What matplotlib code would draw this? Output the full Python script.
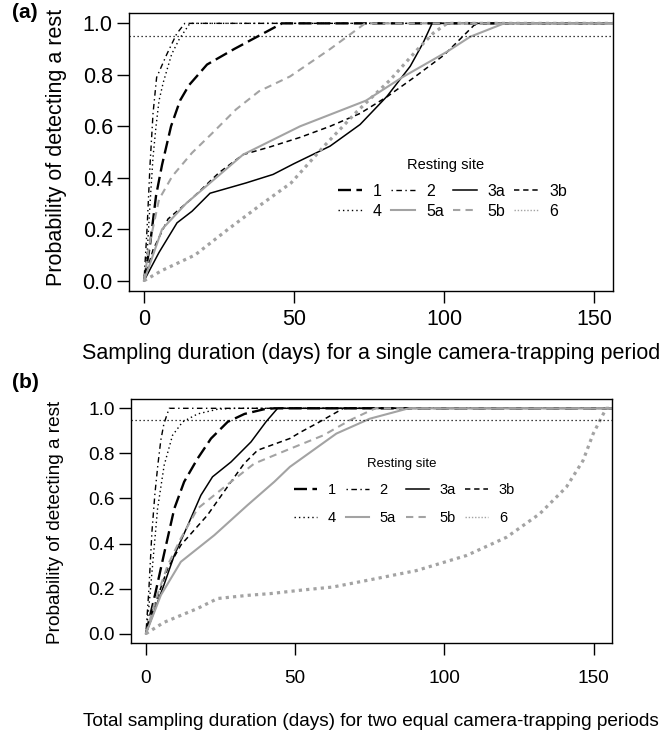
import matplotlib.pyplot as plt

plt.rcParams.update({
    "font.family": ["Liberation Sans", "DejaVu Sans"],
    "axes.linewidth": 1.0,
})

SITES = ["1", "2", "3a", "3b", "4", "5a", "5b", "6"]

# (a) single camera-trapping period: days vs probability of detecting a rest
a1_x = [0, 2, 4, 6, 9, 12, 15, 21, 30, 38, 46, 160]
a1_y = [0, 0.14, 0.33, 0.45, 0.60, 0.70, 0.76, 0.84, 0.90, 0.95, 1.0, 1.0]
a2_x = [0, 1, 2, 3, 4.2, 7.6, 10.9, 13.6, 160]
a2_y = [0, 0.2, 0.45, 0.65, 0.79, 0.88, 0.96, 1.0, 1.0]
a3a_x = [0, 5, 11, 16, 22, 34, 43, 50, 62, 72, 81, 88.7, 93, 96, 160]
a3a_y = [0, 0.11, 0.225, 0.27, 0.34, 0.38, 0.413, 0.455, 0.523, 0.607, 0.717, 0.833, 0.924, 1.0, 1.0]
a3b_x = [0, 3, 8, 16, 25, 33, 42, 52, 62, 72, 81, 90, 100, 110, 112, 160]
a3b_y = [0, 0.12, 0.24, 0.32, 0.42, 0.49, 0.52, 0.557, 0.60, 0.65, 0.715, 0.79, 0.877, 0.993, 1.0, 1.0]
a4_x = [0, 1, 2, 3, 4, 5, 6.4, 9.2, 11.8, 15.3, 160]
a4_y = [0, 0.1, 0.3, 0.48, 0.6, 0.7, 0.77, 0.88, 0.94, 1.0, 1.0]
a5a_x = [0, 3, 6, 14, 22, 33, 52, 74, 86, 101, 108.7, 120, 160]
a5a_y = [0, 0.1, 0.2, 0.3, 0.38, 0.49, 0.60, 0.70, 0.79, 0.89, 0.948, 1.0, 1.0]
a5b_x = [0, 1.7, 5, 9.4, 16, 22.8, 30.6, 38.3, 48.7, 62, 73.7, 160]
a5b_y = [0, 0.135, 0.316, 0.406, 0.497, 0.574, 0.665, 0.736, 0.794, 0.90, 1.0, 1.0]
a6_x = [0, 6, 17, 28, 39, 49, 60, 71, 82, 91, 96.4, 101, 160]
a6_y = [0, 0.04, 0.10, 0.20, 0.296, 0.38, 0.523, 0.658, 0.78, 0.897, 0.962, 1.0, 1.0]

# (b) two equal camera-trapping periods: total days vs probability
b1_x = [0, 3, 6, 9.5, 12.8, 17.3, 21.8, 27.4, 33, 39.6, 43, 160]
b1_y = [0, 0.17, 0.35, 0.555, 0.674, 0.777, 0.866, 0.94, 0.975, 0.996, 1.0, 1.0]
b2_x = [0, 1, 2, 3, 4, 5, 6, 7, 7.8, 160]
b2_y = [0, 0.2, 0.45, 0.62, 0.75, 0.86, 0.93, 0.97, 1.0, 1.0]
b3a_x = [0, 6, 9.5, 14, 18.4, 22.3, 28.5, 35.2, 40.2, 44.1, 160]
b3a_y = [0, 0.215, 0.348, 0.48, 0.614, 0.696, 0.762, 0.851, 0.94, 1.0, 1.0]
b3b_x = [0, 3, 7.3, 11.7, 20.6, 28.5, 32.9, 37.4, 48.2, 51.9, 57.1, 65.5, 66, 160]
b3b_y = [0, 0.13, 0.29, 0.393, 0.526, 0.674, 0.755, 0.814, 0.866, 0.895, 0.932, 0.995, 1.0, 1.0]
b4_x = [0, 1, 2.2, 3.9, 6.1, 8.9, 12.3, 17.3, 24, 30, 160]
b4_y = [0, 0.12, 0.30, 0.555, 0.747, 0.88, 0.94, 0.975, 0.996, 1.0, 1.0]
b5a_x = [0, 5, 11.7, 22.9, 34, 43, 48.2, 63.8, 75, 88, 160]
b5a_y = [0, 0.171, 0.319, 0.437, 0.57, 0.674, 0.74, 0.888, 0.954, 1.0, 1.0]
b5b_x = [0, 3, 7.3, 11.7, 17.3, 26.2, 36.3, 48.2, 59.4, 68.3, 76, 77, 160]
b5b_y = [0, 0.14, 0.304, 0.423, 0.555, 0.65, 0.755, 0.82, 0.88, 0.947, 0.995, 1.0, 1.0]
b6_x = [0, 6, 17.3, 24, 34, 41.8, 51.9, 62.6, 73.9, 90.6, 107.4, 120.8, 131.9,
        140.8, 146.4, 149.8, 152.6, 154.2, 160]
b6_y = [0, 0.05, 0.112, 0.156, 0.17, 0.178, 0.193, 0.207, 0.236, 0.28, 0.347, 0.428, 0.532,
        0.65, 0.768, 0.887, 0.96, 1.0, 1.0]

THRESHOLD = 0.95
X_TICKS = [0, 50, 100, 150]
Y_TICKS = [0.0, 0.2, 0.4, 0.6, 0.8, 1.0]

GREY = "#a3a3a3"
STYLE = {
    "1": dict(color="black", lw=1.7, dashes=(5.5, 2.3)),
    "2": dict(color="black", lw=1.0, dashes=(1, 2.5, 4, 2.5)),
    "3a": dict(color="black", lw=1.1, ls="-"),
    "3b": dict(color="black", lw=1.1, dashes=(3.5, 2.5)),
    "4": dict(color="black", lw=1.0, dashes=(1, 2.2)),
    "5a": dict(color=GREY, lw=1.5, ls="-"),
    "5b": dict(color=GREY, lw=1.5, dashes=(3.5, 2.5)),
    "6": dict(color=GREY, lw=2.3, dashes=(1, 1.3)),
}

# row-major legend order for matplotlib's column-first filling
LEG_ORDER = ["1", "4", "2", "5a", "3a", "5b", "3b", "6"]


def draw_panel(ax, series, xlim, fs, xlabel, xlab_y, ylab_xy, xpad,
               leg_fs, title_fs, leg_anchor, leg_spacing, title_xy, hlen, hpad, cspace):
    lines = {}
    for site, (xs, ys) in zip(SITES, series):
        (ln,) = ax.plot(xs, ys, label=site, dash_capstyle="butt", **STYLE[site])
        lines[site] = ln
    ax.axhline(THRESHOLD, color="black", lw=0.9, dashes=(1, 2.2))

    ax.set_xlim(*xlim)
    ax.set_ylim(-0.04, 1.04)
    ax.set_xticks(X_TICKS)
    ax.set_yticks(Y_TICKS)
    ax.set_yticklabels([f"{v:.1f}" for v in Y_TICKS])
    ax.tick_params(axis="both", direction="out", length=8.5, width=1.0, labelsize=fs)
    ax.tick_params(axis="x", pad=xpad)
    ax.tick_params(axis="y", pad=3.2)

    ax.set_xlabel(xlabel, fontsize=fs, va="center")
    ax.xaxis.set_label_coords(0.5, xlab_y)
    ax.set_ylabel("Probability of detecting a rest", fontsize=fs, va="center")
    ax.yaxis.set_label_coords(*ylab_xy)

    leg = ax.legend(
        [lines[s] for s in LEG_ORDER], LEG_ORDER,
        ncol=4, frameon=False, fontsize=leg_fs,
        loc="upper left", bbox_to_anchor=leg_anchor, borderpad=0,
        handlelength=hlen, handletextpad=hpad, columnspacing=cspace,
        labelspacing=leg_spacing,
    )
    leg.get_lines()[LEG_ORDER.index("6")].set_linewidth(1.0)
    ax.text(title_xy[0], title_xy[1], "Resting site", fontsize=title_fs,
            ha="center", va="center", transform=ax.transAxes)


fig = plt.figure(figsize=(6.63, 7.34), dpi=100)
ax_a = fig.add_axes([0.1946, 0.6035, 0.7296, 0.3787])
ax_b = fig.add_axes([0.1976, 0.1244, 0.7250, 0.3316])

series_a = [(a1_x, a1_y), (a2_x, a2_y), (a3a_x, a3a_y), (a3b_x, a3b_y),
            (a4_x, a4_y), (a5a_x, a5a_y), (a5b_x, a5b_y), (a6_x, a6_y)]
series_b = [(b1_x, b1_y), (b2_x, b2_y), (b3a_x, b3a_y), (b3b_x, b3b_y),
            (b4_x, b4_y), (b5a_x, b5a_y), (b5b_x, b5b_y), (b6_x, b6_y)]

draw_panel(ax_a, series_a, (-5, 156.2), 15.5,
           "Sampling duration (days) for a single camera-trapping period",
           -0.223, (-0.149, 0.516), 4.3,
           11.5, 10.5, (0.4155, 0.414), 0.3, (0.6547, 0.4532), 1.5, 0.69, 0.56)
draw_panel(ax_b, series_b, (-5, 156.0), 13.7,
           "Total sampling duration (days) for two equal camera-trapping periods",
           -0.322, (-0.157, 0.494), 11.5,
           10.5, 9.5, (0.3246, 0.687), 0.95, (0.5631, 0.734), 1.58, 0.72, 0.68)

fig.text(12 / 663, 1 - 3 / 734, "(a)", fontsize=15, fontweight="bold", va="top", ha="left")
fig.text(12 / 663, 1 - 373 / 734, "(b)", fontsize=15, fontweight="bold", va="top", ha="left")

fig.savefig("out.png", dpi=100)
